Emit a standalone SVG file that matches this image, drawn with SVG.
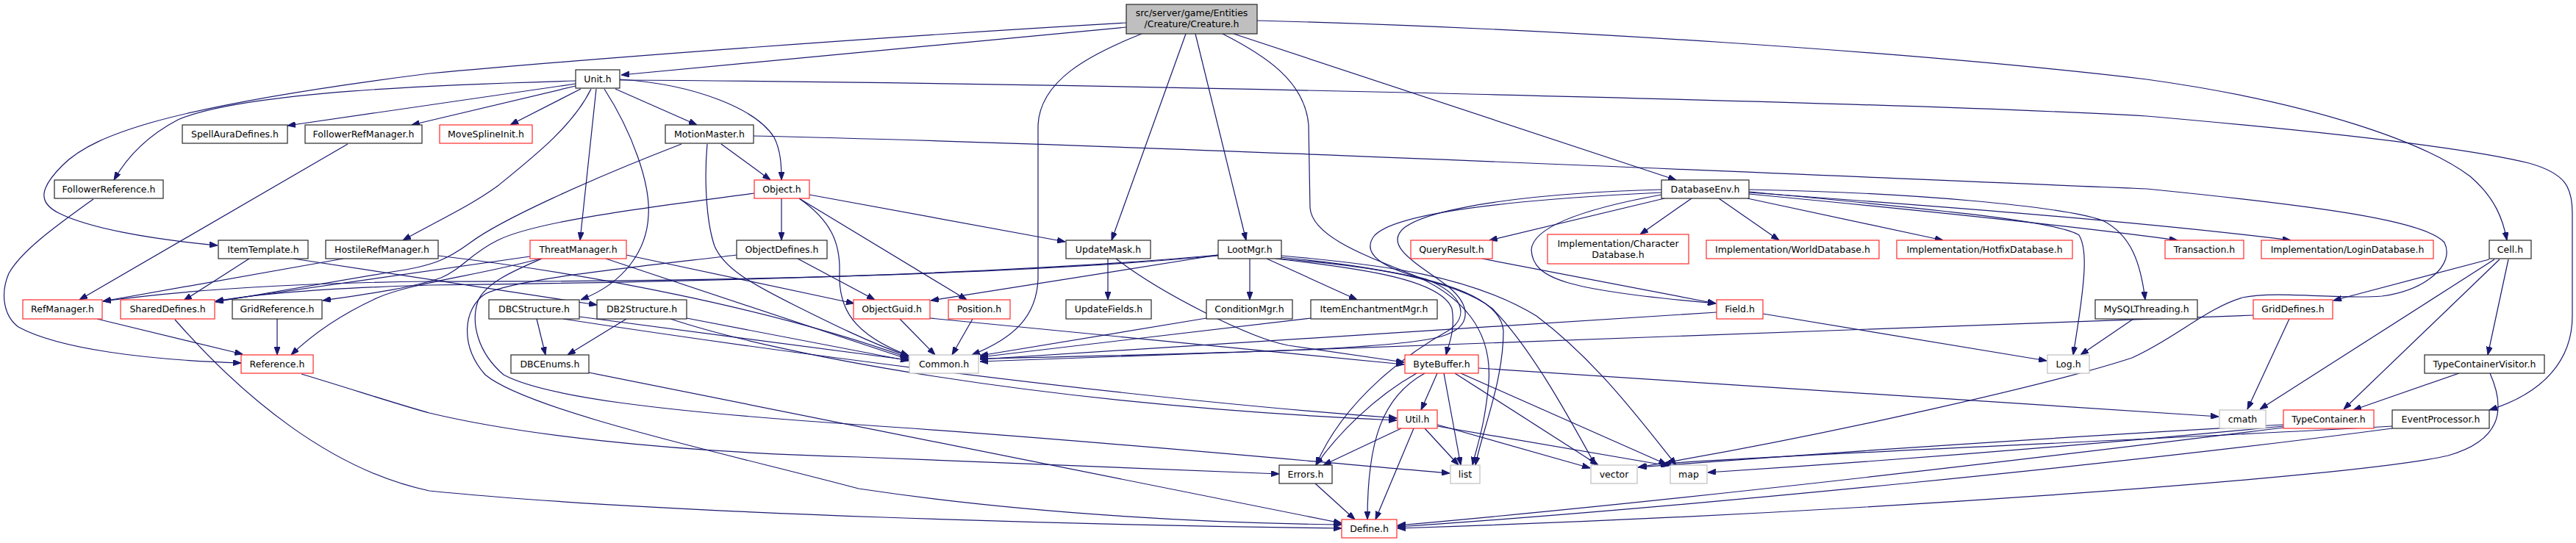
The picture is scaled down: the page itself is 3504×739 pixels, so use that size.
<svg xmlns="http://www.w3.org/2000/svg" width="3504" height="739" viewBox="0 0 3504 739">
<style>
text{font-family:"DejaVu Sans","Liberation Sans",sans-serif;font-size:12.5px;fill:#000;text-anchor:middle}
.node rect{fill:#fff;stroke:#262626;stroke-width:1.2}
.red rect{stroke:#ff2a2a}
.gray rect{stroke:#bfbfbf}
.root rect{fill:#bfbfbf}
#edges path{fill:none;stroke:#191970;stroke-width:1.2;marker-end:url(#a)}
</style>
<defs>
<marker id="a" markerWidth="11" markerHeight="8" refX="11" refY="4" orient="auto" markerUnits="userSpaceOnUse">
<path d="M0,0 L11,4 L0,8 z" fill="#191970" stroke="#191970" stroke-width="1"/>
</marker>
</defs>
<rect width="3504" height="739" fill="#fff"/>
<g id="edges">
<path d="M1532,37 L845,102"/>
<path d="M1532,31 C1200,50 800,80 584,100 C450,117 300,140 205,167 C150,183 110,200 85,225 C55,255 50,275 80,290 C120,310 200,325 296,334"/>
<path d="M783,110 C600,115 330,125 242,163 C200,185 172,215 155,245"/>
<path d="M783,114 L391,171"/>
<path d="M783,117 L560,170"/>
<path d="M804,121 C780,170 730,210 677,253 C640,280 600,298 548,327"/>
<path d="M790,121 L694,170"/>
<path d="M811,121 L789,327"/>
<path d="M822,121 C860,180 885,250 882,293 C880,340 850,385 790,408"/>
<path d="M837,121 L948,170"/>
<path d="M843,108 C950,115 1030,150 1053,187 C1062,205 1063,225 1063,245"/>
<path d="M843,109 C1500,113 2600,140 2920,158 C3150,178 3350,200 3440,222 C3490,236 3499,255 3499,290 L3499,430 C3499,490 3460,535 3386,558"/>
<path d="M1553,46 C1480,75 1415,110 1412,170 L1412,380 C1410,430 1380,460 1322,483"/>
<path d="M1613,46 L1512,327"/>
<path d="M1626,46 L1695,327"/>
<path d="M1663,46 C1720,75 1775,110 1780,170 L1782,283 C1785,320 1850,345 1912,370 C1990,400 2030,450 2025,520 C2020,580 2008,610 2003,633"/>
<path d="M1678,46 L2280,245"/>
<path d="M1710,28 C2100,38 2600,70 2920,108 C3150,140 3300,195 3360,240 C3395,270 3405,300 3410,327"/>
<path d="M981,196 L1048,245"/>
<path d="M962,196 C958,240 960,300 972,335 C985,365 1020,385 1080,415 C1130,440 1180,465 1236,485"/>
<path d="M927,196 C800,245 680,300 640,330 C610,352 590,362 533,370 L293,411"/>
<path d="M1025,185 C1500,195 2500,240 2920,257 C3150,280 3300,300 3325,330 C3340,360 3300,395 3240,403 C3180,408 3100,395 3050,405 C3000,420 2960,460 2900,487 C2800,520 2500,590 2228,636"/>
<path d="M1063,270 L1063,327"/>
<path d="M1101,265 L1449,329"/>
<path d="M1087,270 L1315,408"/>
<path d="M1087,270 C1130,300 1143,330 1142,370 C1140,420 1160,455 1236,484"/>
<path d="M1026,263 C900,280 730,300 677,327 C640,345 630,365 600,378 C560,392 500,400 439,409"/>
<path d="M1085,352 L1190,408"/>
<path d="M1002,347 C850,365 700,380 660,400 C630,420 625,470 660,510 C720,560 1000,620 1168,665 C1400,700 1650,712 1825,714"/>
<path d="M852,347 L1162,413"/>
<path d="M824,352 L1236,489"/>
<path d="M735,352 C650,375 560,385 514,405 C470,425 430,450 396,483"/>
<path d="M721,349 L293,410"/>
<path d="M737,352 C700,368 660,385 650,410 C640,440 650,480 685,510 C740,540 900,560 1168,578 C1500,600 1800,630 1972,644"/>
<path d="M467,352 L140,410"/>
<path d="M596,348 C800,372 1050,420 1236,487"/>
<path d="M473,196 L108,408"/>
<path d="M127,271 C80,305 30,340 12,372 C0,400 5,430 25,445 C80,475 200,490 328,494"/>
<path d="M339,352 L250,409"/>
<path d="M399,352 L812,415"/>
<path d="M132,434 L330,482"/>
<path d="M377,434 L377,483"/>
<path d="M1657,348 C1400,372 1000,384 584,383 C400,385 250,395 140,410"/>
<path d="M1657,347 C1400,371 1000,383 584,388 C450,392 350,400 293,410"/>
<path d="M1657,347 L1266,409"/>
<path d="M1700,352 L1700,408"/>
<path d="M1723,352 L1846,408"/>
<path d="M1735,352 C1850,365 1960,380 1975,420 C1980,450 1970,470 1967,483"/>
<path d="M1740,350 C1850,360 1980,380 2030,420 C2080,470 2130,560 2170,633"/>
<path d="M1743,348 C1880,360 2000,375 2090,430 C2170,490 2230,570 2280,633"/>
<path d="M1740,352 C1900,365 2040,390 2045,450 C2045,520 2015,590 2007,633"/>
<path d="M1507,352 L1507,408"/>
<path d="M1518,352 C1580,400 1700,460 1752,470 L1910,493"/>
<path d="M1224,434 L1272,483"/>
<path d="M1265,433 L1910,496"/>
<path d="M1323,434 L1295,483"/>
<path d="M1641,433 L1333,484"/>
<path d="M1783,433 L1333,486"/>
<path d="M730,434 L742,483"/>
<path d="M852,434 L772,483"/>
<path d="M801,507 L1825,712"/>
<path d="M788,431 L1236,490"/>
<path d="M934,433 L1236,491"/>
<path d="M766,434 C1000,470 1500,540 1900,569"/>
<path d="M912,434 C1050,480 1400,550 1900,572"/>
<path d="M238,435 C330,540 450,640 584,668 C900,700 1500,715 1825,719"/>
<path d="M410,509 C480,530 540,550 584,562 C700,590 900,615 1168,622 L1740,645"/>
<path d="M3386,353 L3174,409"/>
<path d="M3393,353 L3074,557"/>
<path d="M3400,353 L3188,557"/>
<path d="M3412,353 L3384,483"/>
<path d="M2264,270 L2026,327"/>
<path d="M2301,270 L2231,319"/>
<path d="M2338,270 L2420,327"/>
<path d="M2377,270 L2643,327"/>
<path d="M2379,264 C2600,285 2800,305 2962,327"/>
<path d="M2379,262 C2600,278 2900,300 3116,327"/>
<path d="M2379,258 C2600,262 2800,280 2860,300 C2900,320 2912,360 2918,408"/>
<path d="M2379,261 C2600,282 2800,300 2828,320 C2840,340 2837,380 2820,483"/>
<path d="M2260,265 C2150,285 2085,310 2083,340 C2085,380 2130,395 2334,413"/>
<path d="M2260,258 C2100,262 1950,280 1910,310 C1880,335 1930,360 1970,390 C2000,415 2005,445 1960,458 C1900,475 1700,480 1333,488"/>
<path d="M2260,262 C2050,272 1900,290 1870,320 C1850,345 1880,365 1940,380 C1990,400 2000,430 1970,450 C1920,478 1830,540 1790,633"/>
<path d="M2016,352 L2334,413"/>
<path d="M2398,427 L2784,491"/>
<path d="M2902,434 L2830,483"/>
<path d="M2335,425 L1333,489"/>
<path d="M3065,429 L1333,492"/>
<path d="M3114,434 L3057,557"/>
<path d="M3345,508 L3201,558"/>
<path d="M3387,508 C3410,560 3400,600 3330,620 C3200,650 2500,700 1901,719"/>
<path d="M3106,582 C2800,620 2300,680 1901,715"/>
<path d="M3254,583 C2900,630 2300,690 1901,717"/>
<path d="M3106,580 C2900,600 2600,625 2323,643"/>
<path d="M3254,580 C2900,600 2500,615 2262,631"/>
<path d="M3106,578 C2800,595 2500,615 2229,636"/>
<path d="M1955,508 L1933,558"/>
<path d="M1927,508 C1870,540 1820,590 1790,633"/>
<path d="M1938,508 C1880,540 1860,600 1860,707"/>
<path d="M1964,508 L1987,633"/>
<path d="M1979,508 L2174,633"/>
<path d="M1987,508 L2267,632"/>
<path d="M2011,501 L3018,567"/>
<path d="M1906,583 L1800,633"/>
<path d="M1923,583 L1871,707"/>
<path d="M1938,583 L1984,633"/>
<path d="M1955,578 L2163,637"/>
<path d="M1955,580 L2270,634"/>
<path d="M1789,658 L1843,707"/>
</g>
<g id="n_creature" class="node root"><rect x="1532" y="6" width="178" height="40"/><text x="1621" y="22">src/server/game/Entities</text><text x="1621" y="37">/Creature/Creature.h</text></g>
<g id="n_unit" class="node"><rect x="783" y="95" width="60" height="25"/><text x="813" y="112">Unit.h</text></g>
<g id="n_spellauradefines" class="node"><rect x="248" y="170" width="143" height="25"/><text x="319.5" y="187">SpellAuraDefines.h</text></g>
<g id="n_followerrefmanager" class="node"><rect x="415" y="170" width="159" height="25"/><text x="494.5" y="187">FollowerRefManager.h</text></g>
<g id="n_movesplineinit" class="node red"><rect x="598" y="170" width="126" height="25"/><text x="661" y="187">MoveSplineInit.h</text></g>
<g id="n_motionmaster" class="node"><rect x="905" y="170" width="120" height="25"/><text x="965" y="187">MotionMaster.h</text></g>
<g id="n_followerreference" class="node"><rect x="74" y="245" width="148" height="25"/><text x="148" y="262">FollowerReference.h</text></g>
<g id="n_object" class="node red"><rect x="1026" y="245" width="75" height="25"/><text x="1063.5" y="262">Object.h</text></g>
<g id="n_databaseenv" class="node"><rect x="2260" y="245" width="119" height="25"/><text x="2319.5" y="262">DatabaseEnv.h</text></g>
<g id="n_itemtemplate" class="node"><rect x="297" y="327" width="122" height="25"/><text x="358" y="344">ItemTemplate.h</text></g>
<g id="n_hostilerefmanager" class="node"><rect x="443" y="327" width="153" height="25"/><text x="519.5" y="344">HostileRefManager.h</text></g>
<g id="n_threatmanager" class="node red"><rect x="721" y="327" width="131" height="25"/><text x="786.5" y="344">ThreatManager.h</text></g>
<g id="n_objectdefines" class="node"><rect x="1002" y="327" width="123" height="25"/><text x="1063.5" y="344">ObjectDefines.h</text></g>
<g id="n_updatemask" class="node"><rect x="1450" y="327" width="115" height="25"/><text x="1507.5" y="344">UpdateMask.h</text></g>
<g id="n_lootmgr" class="node"><rect x="1657" y="327" width="86" height="25"/><text x="1700" y="344">LootMgr.h</text></g>
<g id="n_queryresult" class="node red"><rect x="1919" y="327" width="111" height="25"/><text x="1974.5" y="344">QueryResult.h</text></g>
<g id="n_characterdatabase" class="node red"><rect x="2105" y="319" width="192" height="40"/><text x="2201" y="336">Implementation/Character</text><text x="2201" y="351">Database.h</text></g>
<g id="n_worlddatabase" class="node red"><rect x="2321" y="327" width="235" height="25"/><text x="2438.5" y="344">Implementation/WorldDatabase.h</text></g>
<g id="n_hotfixdatabase" class="node red"><rect x="2580" y="327" width="239" height="25"/><text x="2699.5" y="344">Implementation/HotfixDatabase.h</text></g>
<g id="n_transaction" class="node red"><rect x="2945" y="327" width="107" height="25"/><text x="2998.5" y="344">Transaction.h</text></g>
<g id="n_logindatabase" class="node red"><rect x="3076" y="327" width="234" height="25"/><text x="3193" y="344">Implementation/LoginDatabase.h</text></g>
<g id="n_cell" class="node"><rect x="3386" y="327" width="57" height="25"/><text x="3414.5" y="344">Cell.h</text></g>
<g id="n_refmanager" class="node red"><rect x="31" y="408" width="108" height="26"/><text x="85" y="425">RefManager.h</text></g>
<g id="n_shareddefines" class="node red"><rect x="164" y="408" width="128" height="26"/><text x="228" y="425">SharedDefines.h</text></g>
<g id="n_gridreference" class="node"><rect x="316" y="408" width="122" height="26"/><text x="377" y="425">GridReference.h</text></g>
<g id="n_dbcstructure" class="node"><rect x="665" y="408" width="123" height="26"/><text x="726.5" y="425">DBCStructure.h</text></g>
<g id="n_db2structure" class="node"><rect x="812" y="408" width="122" height="26"/><text x="873" y="425">DB2Structure.h</text></g>
<g id="n_objectguid" class="node red"><rect x="1161" y="408" width="104" height="26"/><text x="1213" y="425">ObjectGuid.h</text></g>
<g id="n_position" class="node red"><rect x="1290" y="408" width="84" height="26"/><text x="1332" y="425">Position.h</text></g>
<g id="n_updatefields" class="node"><rect x="1450" y="408" width="116" height="26"/><text x="1508" y="425">UpdateFields.h</text></g>
<g id="n_conditionmgr" class="node"><rect x="1641" y="408" width="117" height="26"/><text x="1699.5" y="425">ConditionMgr.h</text></g>
<g id="n_itemenchantmentmgr" class="node"><rect x="1783" y="408" width="172" height="26"/><text x="1869" y="425">ItemEnchantmentMgr.h</text></g>
<g id="n_field" class="node red"><rect x="2335" y="408" width="63" height="26"/><text x="2366.5" y="425">Field.h</text></g>
<g id="n_mysqlthreading" class="node"><rect x="2850" y="408" width="139" height="26"/><text x="2919.5" y="425">MySQLThreading.h</text></g>
<g id="n_griddefines" class="node red"><rect x="3065" y="408" width="108" height="26"/><text x="3119" y="425">GridDefines.h</text></g>
<g id="n_reference" class="node red"><rect x="328" y="483" width="98" height="25"/><text x="377" y="500">Reference.h</text></g>
<g id="n_dbcenums" class="node"><rect x="695" y="483" width="106" height="25"/><text x="748" y="500">DBCEnums.h</text></g>
<g id="n_common" class="node gray"><rect x="1237" y="483" width="94" height="25"/><text x="1284" y="500">Common.h</text></g>
<g id="n_bytebuffer" class="node red"><rect x="1911" y="483" width="100" height="25"/><text x="1961" y="500">ByteBuffer.h</text></g>
<g id="n_log" class="node gray"><rect x="2785" y="483" width="57" height="25"/><text x="2813.5" y="500">Log.h</text></g>
<g id="n_typecontainervisitor" class="node"><rect x="3298" y="483" width="163" height="25"/><text x="3379.5" y="500">TypeContainerVisitor.h</text></g>
<g id="n_util" class="node red"><rect x="1901" y="558" width="54" height="25"/><text x="1928" y="575">Util.h</text></g>
<g id="n_cmath" class="node gray"><rect x="3019" y="558" width="63" height="25"/><text x="3050.5" y="575">cmath</text></g>
<g id="n_typecontainer" class="node red"><rect x="3106" y="558" width="123" height="25"/><text x="3167.5" y="575">TypeContainer.h</text></g>
<g id="n_eventprocessor" class="node"><rect x="3254" y="558" width="132" height="25"/><text x="3320" y="575">EventProcessor.h</text></g>
<g id="n_errors" class="node"><rect x="1740" y="633" width="72" height="25"/><text x="1776" y="650">Errors.h</text></g>
<g id="n_list" class="node gray"><rect x="1973" y="633" width="40" height="25"/><text x="1993" y="650">list</text></g>
<g id="n_vector" class="node gray"><rect x="2164" y="633" width="63" height="25"/><text x="2195.5" y="650">vector</text></g>
<g id="n_map" class="node gray"><rect x="2272" y="633" width="50" height="25"/><text x="2297" y="650">map</text></g>
<g id="n_define" class="node red"><rect x="1825" y="707" width="75" height="25"/><text x="1862.5" y="724">Define.h</text></g>
</svg>
